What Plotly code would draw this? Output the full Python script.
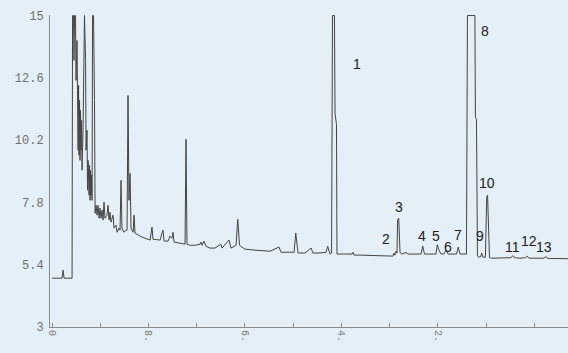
import plotly.graph_objects as go

# Retention time (min) and detector signal
time_min = [
    0, 0.83, 0.91, 1.00, 1.66, 1.70, 1.78, 1.82, 1.87, 1.95, 1.99, 2.07, 2.11, 2.16, 2.20,
    2.24, 2.28, 2.32, 2.36, 2.40, 2.45, 2.49, 2.57, 2.65, 2.69, 2.78, 2.82, 2.90, 2.94,
    2.99, 3.07, 3.11, 3.15, 3.19, 3.23, 3.28, 3.32, 3.36, 3.44, 3.52, 3.57, 3.65, 3.73,
    3.81, 3.90, 3.98, 4.06, 4.15, 4.23, 4.31, 4.39, 4.56, 4.64, 4.73, 4.81, 4.89, 5.06,
    5.14, 5.31, 5.39, 5.56, 5.64, 5.72, 5.80, 5.97, 6.14, 6.22, 6.30, 6.38, 6.47, 6.55,
    6.72, 6.80, 6.88, 7.30, 7.71, 8.13, 8.29, 8.37, 8.96, 9.20, 9.29, 9.62, 9.78, 9.95,
    10.03, 10.12, 10.61, 11.03, 11.11, 11.19, 11.44, 11.86, 12.27, 12.35, 12.44, 12.60,
    12.77, 13.10, 13.52, 13.99, 14.10, 14.68, 14.84, 15.26, 15.40, 15.55, 15.75, 16.00,
    16.83, 18.08, 18.82, 18.99, 20.07, 20.21, 20.40, 20.98, 21.48, 21.64, 22.22, 22.72,
    22.86, 22.97, 23.05, 23.18, 23.26, 23.42, 23.47, 23.59, 23.63, 23.88, 24.88, 24.96,
    25.04, 25.54, 27.20, 28.28, 28.36, 28.44, 28.52, 28.61, 28.66, 28.75, 28.86, 28.98,
    29.35, 29.52, 30.10, 30.60, 30.74, 30.89, 31.34, 31.84, 31.95, 32.09, 32.26, 32.50,
    32.67, 32.84, 33.17, 33.54, 33.69, 33.83, 34.37, 34.45, 35.07, 35.11, 35.20, 35.28,
    35.41, 35.53, 35.63, 35.74, 35.94, 36.05, 36.12, 36.28, 36.46, 36.73, 37.56, 38.06,
    38.20, 38.35, 38.81, 39.26, 39.41, 39.55, 40.05, 40.38, 40.80, 40.96, 41.13, 41.71,
    42.79,
]
signal = [
    4.88, 4.88, 5.19, 4.88, 4.88, 15.0, 15.0, 13.27, 15.0, 15.0, 12.50, 14.04, 12.12, 9.81, 12.31,
    9.62, 11.73, 9.42, 11.35, 9.81, 10.96, 9.04, 10.58, 14.81, 15.0, 13.27, 9.81, 10.58, 8.27,
    9.42, 8.08, 9.23, 7.88, 9.04, 8.08, 8.85, 7.88, 15.0, 15.0, 11.73, 7.38, 7.69, 7.31,
    7.69, 7.19, 7.58, 7.19, 7.50, 7.12, 7.81, 7.19, 7.31, 7.69, 7.12, 7.42, 7.04, 7.31,
    6.81, 6.92, 6.65, 6.81, 6.73, 8.65, 6.81, 6.65, 6.73, 6.73, 11.92, 7.88, 8.92, 6.81,
    6.65, 7.31, 6.62, 6.50, 6.42, 6.35, 6.85, 6.38, 6.35, 6.73, 6.31, 6.31, 6.50, 6.42,
    6.65, 6.27, 6.23, 6.19, 10.23, 6.19, 6.15, 6.15, 6.19, 6.27, 6.15, 6.31,
    6.11, 6.04, 6.04, 6.19, 6.04, 6.35, 6.04, 6.15, 7.15, 6.15, 6.08, 6.00,
    5.96, 5.92, 6.08, 5.88, 5.88, 6.62, 5.85, 5.85, 6.04, 5.85, 5.85, 5.88,
    6.11, 5.92, 5.81, 5.85, 15.0, 15.0, 11.23, 10.80, 5.81, 5.81, 5.81, 5.88,
    5.77, 5.77, 5.73, 5.73, 5.85, 5.77, 5.92, 5.85, 7.12, 7.19, 5.88, 5.81,
    5.87, 5.81, 5.81, 5.81, 6.12, 5.81, 5.81, 5.81, 6.17, 5.96, 5.81, 5.81,
    5.96, 5.81, 5.81, 5.81, 6.08, 5.81, 5.81, 15.0, 15.0, 11.08, 11.00, 5.73,
    5.69, 5.70, 5.85, 5.69, 5.69, 8.00, 8.08, 5.67, 5.65, 5.65, 5.67, 5.67,
    5.75, 5.67, 5.65, 5.67, 5.73, 5.65, 5.65, 5.65, 5.65, 5.71, 5.64, 5.64,
    5.63,
]

# Peak number labels and their positions
peak_labels = ["1", "2", "3", "4", "5", "6", "7", "8", "9", "10", "11", "12", "13"]
label_time = [25.29, 27.67, 28.77, 30.66, 31.87, 32.86, 33.69, 35.90, 35.49, 36.09, 38.20, 39.57, 40.80]
label_signal = [13.15, 6.39, 7.62, 6.50, 6.50, 6.07, 6.54, 14.42, 6.50, 8.56, 6.07, 6.31, 6.07]

y_ticks = [3, 5.4, 7.8, 10.2, 12.6, 15]
y_ticktext = ["3", "5.4", "7.8", "10.2", "12.6", "15"]
x_ticks = [0, 8, 16, 24, 32]
x_ticktext = ["0", "8.", "6.", "4.", "2."]

bg = "#e4eff7"
ink = "#444444"

fig = go.Figure()
fig.add_trace(go.Scatter(
    x=time_min, y=signal, mode="lines",
    line=dict(color=ink, width=1),
    hoverinfo="skip", showlegend=False,
))

for txt, tx, ty in zip(peak_labels, label_time, label_signal):
    fig.add_annotation(
        x=tx, y=ty, text=txt, showarrow=False,
        font=dict(family="Liberation Sans, Arial, sans-serif", size=14, color="#222222"),
        xanchor="center", yanchor="middle",
    )

fig.update_layout(
    width=568, height=353,
    margin=dict(l=50, r=0, t=15, b=26),
    paper_bgcolor=bg, plot_bgcolor=bg,
    showlegend=False,
)
fig.update_xaxes(
    range=[-0.17, 42.79],
    automargin=False,
    tickmode="array", tickvals=x_ticks, ticktext=x_ticktext,
    tickangle=90,
    tickfont=dict(family="Liberation Mono, monospace", size=10, color="#777777"),
    showgrid=False, zeroline=False,
    showline=True, linecolor="#8a8a8a", linewidth=1,
    ticks="inside", ticklen=4, tickcolor="#8a8a8a",
    minor=dict(tickvals=[4, 12, 20, 28, 36, 40], ticks="inside", ticklen=4, tickcolor="#8a8a8a"),
)
fig.update_yaxes(
    range=[3, 15.02],
    automargin=False,
    tickmode="array", tickvals=y_ticks, ticktext=y_ticktext,
    tickfont=dict(family="Liberation Mono, monospace", size=12, color="#6f6f6f"),
    showgrid=False, zeroline=False,
    showline=True, linecolor="#8a8a8a", linewidth=1,
    ticks="", ticklabelstandoff=3,
)

fig.write_html(
    "out.html",
    config={"displayModeBar": False, "staticPlot": True},
    post_script="document.body.style.margin='0';document.body.style.background='%s';" % bg,
)
